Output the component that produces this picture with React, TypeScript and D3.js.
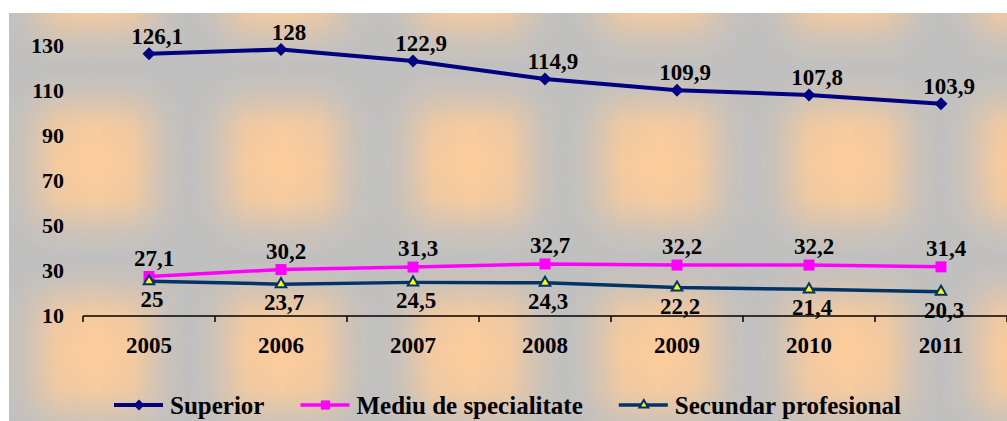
import React from 'react'
import * as d3 from 'd3'

const years = ['2005', '2006', '2007', '2008', '2009', '2010', '2011']
const superior = [126.1, 128, 122.9, 114.9, 109.9, 107.8, 103.9]
const mediu = [27.1, 30.2, 31.3, 32.7, 32.2, 32.2, 31.4]
const secundar = [25, 23.7, 24.5, 24.3, 22.2, 21.4, 20.3]
const yTicks = [10, 30, 50, 70, 90, 110, 130]
const seriesNames = ['Superior', 'Mediu de specialitate', 'Secundar profesional']

const FONT = "'Liberation Serif', 'Times New Roman', serif"
const width = 1007
const height = 421

const fmt = (v: number) => String(v).replace('.', ',')

// scales
const xScale = d3.scaleBand().domain(years).range([83, 1007])
const bw = xScale.bandwidth()
const cx = (i: number) => (xScale(years[i]) as number) + bw / 2
const yScale = d3.scaleLinear().domain([10, 130]).range([315, 45])
const xEdge = d3.scaleLinear().domain([0, years.length]).range([83, 1007])
const axisY = yScale(10) + 1

const series = [
  { name: seriesNames[0], values: superior, color: '#000080', width: 4, labelDx: 8, labelDy: -10 },
  { name: seriesNames[1], values: mediu, color: '#FF00FF', width: 3.5, labelDx: 5, labelDy: -11 },
  { name: seriesNames[2], values: secundar, color: '#003366', width: 3.5, labelDx: 3, labelDy: 26 },
]

const linegenerator = d3.line<number>()
  .x((d, i) => cx(i))
  .y((d) => yScale(d))

const tileW = 188
const tileH = 190
const fade: [number, number][] = [[0, 0], [0.12, 0.18], [0.3, 0.85], [0.5, 1], [0.7, 0.85], [0.88, 0.18], [1, 0]]

function Marker({ k, scale }: { k: number, scale: number }) {
  if (k === 0) {
    return <path d={d3.symbol(d3.symbolSquare, 85 * scale)() as string} transform="rotate(45)" fill="#000080" />
  }
  if (k === 1) {
    return <path d={d3.symbol(d3.symbolSquare, 121 * scale)() as string} fill="#FF00FF" />
  }
  return <path d={d3.symbol(d3.symbolTriangle, 48 * scale)() as string} fill="#FFFF00" stroke="#003366" strokeWidth={2} />
}

// legend layout from text widths
const ctx = document.createElement('canvas').getContext('2d') as CanvasRenderingContext2D
ctx.font = `bold 25px ${FONT}`
const legendX: number[] = []
let lx = 114
seriesNames.forEach((n) => {
  legendX.push(lx)
  lx += 56 + ctx.measureText(n).width + 36
})
const legendY = 405

function App() {
  const txt = { fontFamily: FONT, fontWeight: 'bold' as const }
  return (
    <svg width={width} height={height} style={{ position: 'absolute', left: 0, top: 0, display: 'block' }}>
      <defs>
        <linearGradient id="hg" x1={0} x2={1} y1={0} y2={0}>
          {fade.map(([o, a]) => <stop key={o} offset={o} stopColor="#FFCC99" stopOpacity={a} />)}
        </linearGradient>
        <linearGradient id="vg" x1={0} x2={0} y1={0} y2={1}>
          {fade.map(([o, a]) => <stop key={o} offset={o} stopColor="#fff" stopOpacity={a} />)}
        </linearGradient>
        <mask id="vm" maskUnits="userSpaceOnUse" x={0} y={0} width={tileW} height={tileH}>
          <rect width={tileW} height={tileH} fill="url(#vg)" />
        </mask>
        <pattern id="bg" patternUnits="userSpaceOnUse" x={1} y={68} width={tileW} height={tileH}>
          <rect width={tileW} height={tileH} fill="#C0C0C0" />
          <rect width={tileW} height={tileH} fill="url(#hg)" mask="url(#vm)" />
        </pattern>
      </defs>
      <rect x={9} y={13} width={width - 9} height={height - 13} fill="url(#bg)" />

      {/* y axis labels */}
      {yTicks.map((t) => (
        <text key={t} x={64} y={yScale(t)} dy="0.35em" textAnchor="end" fontSize={22} style={txt}>{t}</text>
      ))}

      {/* x axis */}
      <line x1={xEdge(0)} x2={xEdge(years.length)} y1={axisY} y2={axisY} stroke="#000" strokeWidth={1.5} />
      {d3.range(years.length + 1).map((i) => (
        <line key={i} x1={xEdge(i)} x2={xEdge(i)} y1={axisY} y2={axisY + 6} stroke="#000" strokeWidth={1.5} />
      ))}
      {years.map((yr, i) => (
        <text key={yr} x={cx(i)} y={axisY + 37} textAnchor="middle" fontSize={23} style={txt}>{yr}</text>
      ))}

      {/* series */}
      {series.map((s, k) => (
        <g key={s.name}>
          <path d={linegenerator(s.values) as string} fill="none" stroke={s.color} strokeWidth={s.width} strokeLinejoin="round" />
          {s.values.map((v, i) => (
            <g key={i} transform={`translate(${cx(i)},${yScale(v)})`}>
              <Marker k={k} scale={1} />
            </g>
          ))}
          {s.values.map((v, i) => (
            <text key={'l' + i} x={cx(i) + s.labelDx} y={yScale(v) + s.labelDy} textAnchor="middle" fontSize={23} style={txt}>
              {fmt(v)}
            </text>
          ))}
        </g>
      ))}

      {/* legend */}
      {series.map((s, k) => (
        <g key={'lg' + k}>
          <line x1={legendX[k]} x2={legendX[k] + 49} y1={legendY} y2={legendY} stroke={s.color} strokeWidth={s.width} />
          <g transform={`translate(${legendX[k] + 25},${legendY})`}>
            <Marker k={k} scale={0.7} />
          </g>
          <text x={legendX[k] + 56} y={legendY + 9} fontSize={25} style={txt}>{s.name}</text>
        </g>
      ))}
    </svg>
  )
}

export default App
